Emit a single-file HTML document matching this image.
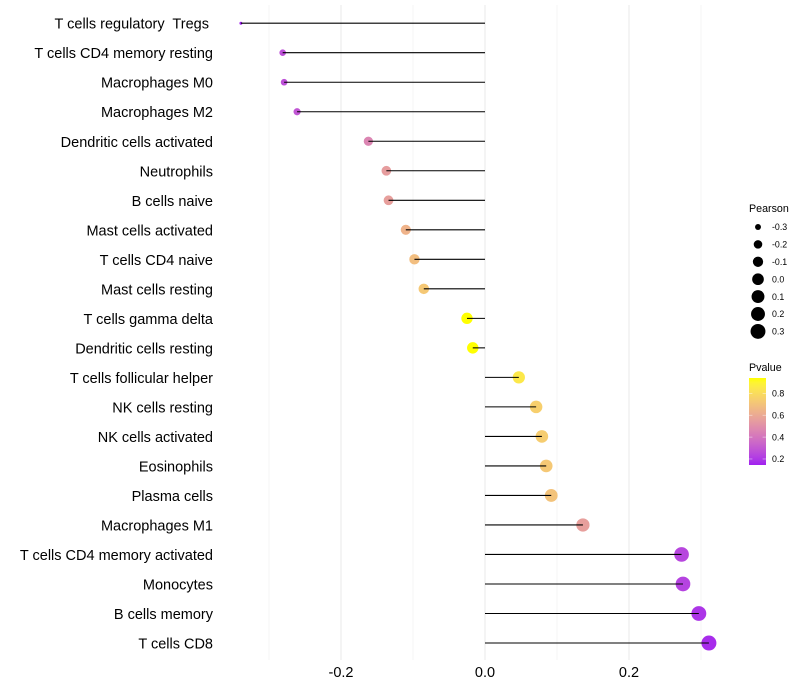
<!DOCTYPE html>
<html lang="en">
<head>
<meta charset="utf-8">
<title>Immune cell correlation lollipop chart</title>
<style>
html,body{margin:0;padding:0;background:#fff;}
svg{display:block;font-family:"Liberation Sans",Arial,sans-serif;}
text{white-space:pre;}
</style>
</head>
<body>
<svg id="chart" xmlns="http://www.w3.org/2000/svg" width="800" height="700" viewBox="0 0 800 700">
  <rect x="0" y="0" width="800" height="700" fill="#ffffff"/>
  <g id="grid"></g>
  <g id="marks"></g>
  <g id="ylabels"></g>
  <g id="xlabels"></g>
  <g id="size-legend">
    <text x="749" y="212" font-size="10.7" fill="#000">Pearson</text>
  </g>
  <defs>
    <linearGradient id="pvalue-gradient" x1="0" y1="1" x2="0" y2="0"></linearGradient>
  </defs>
  <g id="color-legend">
    <text x="749" y="371" font-size="10.7" fill="#000">Pvalue</text>
    <rect x="749" y="378" width="17" height="87" fill="url(#pvalue-gradient)"/>
  </g>
</svg>
<script>
const categories = ["T cells regulatory  Tregs ","T cells CD4 memory resting","Macrophages M0","Macrophages M2","Dendritic cells activated","Neutrophils","B cells naive","Mast cells activated","T cells CD4 naive","Mast cells resting","T cells gamma delta","Dendritic cells resting","T cells follicular helper","NK cells resting","NK cells activated","Eosinophils","Plasma cells","Macrophages M1","T cells CD4 memory activated","Monocytes","B cells memory","T cells CD8"];
const pearson = [-0.339,-0.281,-0.279,-0.261,-0.162,-0.137,-0.134,-0.110,-0.098,-0.085,-0.025,-0.017,0.047,0.071,0.079,0.085,0.092,0.136,0.273,0.275,0.297,0.311];
const pvalue = [0.145,0.27,0.27,0.29,0.46,0.55,0.56,0.64,0.68,0.72,0.94,0.94,0.85,0.75,0.74,0.72,0.70,0.56,0.24,0.23,0.19,0.17];
const xMajorTicks = [-0.2,0,0.2];
const xMinorTicks = [-0.3,-0.1,0.1,0.3];
const xTickLabels = ["-0.2","0.0","0.2"];
const sizeLegendValues = [-0.3,-0.2,-0.1,0,0.1,0.2,0.3];
const sizeLegendLabels = ["-0.3","-0.2","-0.1","0.0","0.1","0.2","0.3"];
const colorLegendValues = [0.8,0.6,0.4,0.2];
const colorLegendLabels = ["0.8","0.6","0.4","0.2"];

const NS = "http://www.w3.org/2000/svg";
function make(tag, attrs, parent) {
  const el = document.createElementNS(NS, tag);
  for (const k in attrs) el.setAttribute(k, attrs[k]);
  parent.appendChild(el);
  return el;
}
const xScale = v => 485 + v * 720;
const yScale = i => 23.2 + i * 29.515;
const sizeMin = Math.min(...pearson), sizeMax = Math.max(...pearson);
const radiusScale = v => 1.5 + 6 * Math.sqrt(Math.max(0, (v - sizeMin) / (sizeMax - sizeMin)));
const pMin = 0.145, pMax = 0.94;
const pScale = p => 465 - (p - pMin) / (pMax - pMin) * 87;

/* Lab interpolation between purple and yellow */
const labLow = rgb2lab(160, 32, 240), labHigh = rgb2lab(255, 255, 0);
function rgb2lab(r, g, b) {
  const f = c => { c /= 255; return c > 0.04045 ? Math.pow((c + 0.055) / 1.055, 2.4) : c / 12.92; };
  const R = f(r), G = f(g), B = f(b);
  const X = (0.4124 * R + 0.3576 * G + 0.1805 * B) / 0.95047;
  const Y = 0.2126 * R + 0.7152 * G + 0.0722 * B;
  const Z = (0.0193 * R + 0.1192 * G + 0.9505 * B) / 1.08883;
  const h = t => t > 0.008856 ? Math.cbrt(t) : 7.787 * t + 16 / 116;
  return [116 * h(Y) - 16, 500 * (h(X) - h(Y)), 200 * (h(Y) - h(Z))];
}
function lab2hex(L, a, b) {
  const fy = (L + 16) / 116, fx = a / 500 + fy, fz = fy - b / 200;
  const g = t => t * t * t > 0.008856 ? t * t * t : (t - 16 / 116) / 7.787;
  const X = g(fx) * 0.95047, Y = g(fy), Z = g(fz) * 1.08883;
  const lin = [3.2406 * X - 1.5372 * Y - 0.4986 * Z, -0.9689 * X + 1.8758 * Y + 0.0415 * Z, 0.0557 * X - 0.204 * Y + 1.057 * Z];
  const out = lin.map(c => {
    c = c > 0.0031308 ? 1.055 * Math.pow(c, 1 / 2.4) - 0.055 : 12.92 * c;
    return Math.round(Math.min(1, Math.max(0, c)) * 255);
  });
  return "rgb(" + out.join(",") + ")";
}
function colorScale(p) {
  const t = Math.min(1, Math.max(0, (p - pMin) / (pMax - pMin)));
  return lab2hex(labLow[0] + (labHigh[0] - labLow[0]) * t, labLow[1] + (labHigh[1] - labLow[1]) * t, labLow[2] + (labHigh[2] - labLow[2]) * t);
}

const grid = document.getElementById("grid");
xMinorTicks.forEach(v => {
  const l = make("line", {x1: xScale(v), x2: xScale(v), y1: 5, y2: 660, stroke: "#ebebeb", "stroke-width": 0.55}, grid);
  
  
});
xMajorTicks.forEach(v => {
  const l = make("line", {x1: xScale(v), x2: xScale(v), y1: 5, y2: 660, stroke: "#ebebeb", "stroke-width": 1.07}, grid);
  
  
});

const marks = document.getElementById("marks");
categories.forEach((c, i) => {
  const pt = make("circle", {cx: xScale(pearson[i]), cy: yScale(i), r: radiusScale(pearson[i]), fill: colorScale(pvalue[i])}, marks);
  
  
});
categories.forEach((c, i) => {
  const seg = make("line", {x1: xScale(0), x2: xScale(pearson[i]), y1: yScale(i), y2: yScale(i), stroke: "#000", "stroke-width": 1.07}, marks);
  
  
});

const ylabels = document.getElementById("ylabels");
categories.forEach((c, i) => {
  const t = make("text", {x: 213, y: yScale(i) + 5.5, "text-anchor": "end", "font-size": 14.5, fill: "#000"}, ylabels);
  t.textContent = c;
  
  
});

const xlabels = document.getElementById("xlabels");
xMajorTicks.forEach((v, i) => {
  const t = make("text", {x: xScale(v), y: 677, "text-anchor": "middle", "font-size": 14.5, fill: "#000"}, xlabels);
  t.textContent = xTickLabels[i];
  
  
});

const sizeLegend = document.getElementById("size-legend");
sizeLegendValues.forEach((v, i) => {
  const y = 227 + i * 17.4;
  const k = make("circle", {cx: 758, cy: y, r: radiusScale(v), fill: "#000"}, sizeLegend);
  
  
  const t = make("text", {x: 772, y: y + 3.2, "font-size": 8.8, fill: "#000"}, sizeLegend);
  t.textContent = sizeLegendLabels[i];
  
  
});

const gradient = document.getElementById("pvalue-gradient");
for (let s = 0; s <= 20; s++) {
  make("stop", {offset: s / 20, "stop-color": colorScale(pMin + (pMax - pMin) * s / 20)}, gradient);
}
const colorLegend = document.getElementById("color-legend");
colorLegendValues.forEach((v, i) => {
  const y = pScale(v);
  const a = make("line", {x1: 749, x2: 752.4, y1: y, y2: y, stroke: "#fff", "stroke-opacity": 0.7, "stroke-width": 0.6}, colorLegend);
  
  
  const b = make("line", {x1: 762.6, x2: 766, y1: y, y2: y, stroke: "#fff", "stroke-opacity": 0.7, "stroke-width": 0.6}, colorLegend);
  
  
  const t = make("text", {x: 772, y: y + 3.2, "font-size": 8.8, fill: "#000"}, colorLegend);
  t.textContent = colorLegendLabels[i];
  
  
});
</script>
</body>
</html>
